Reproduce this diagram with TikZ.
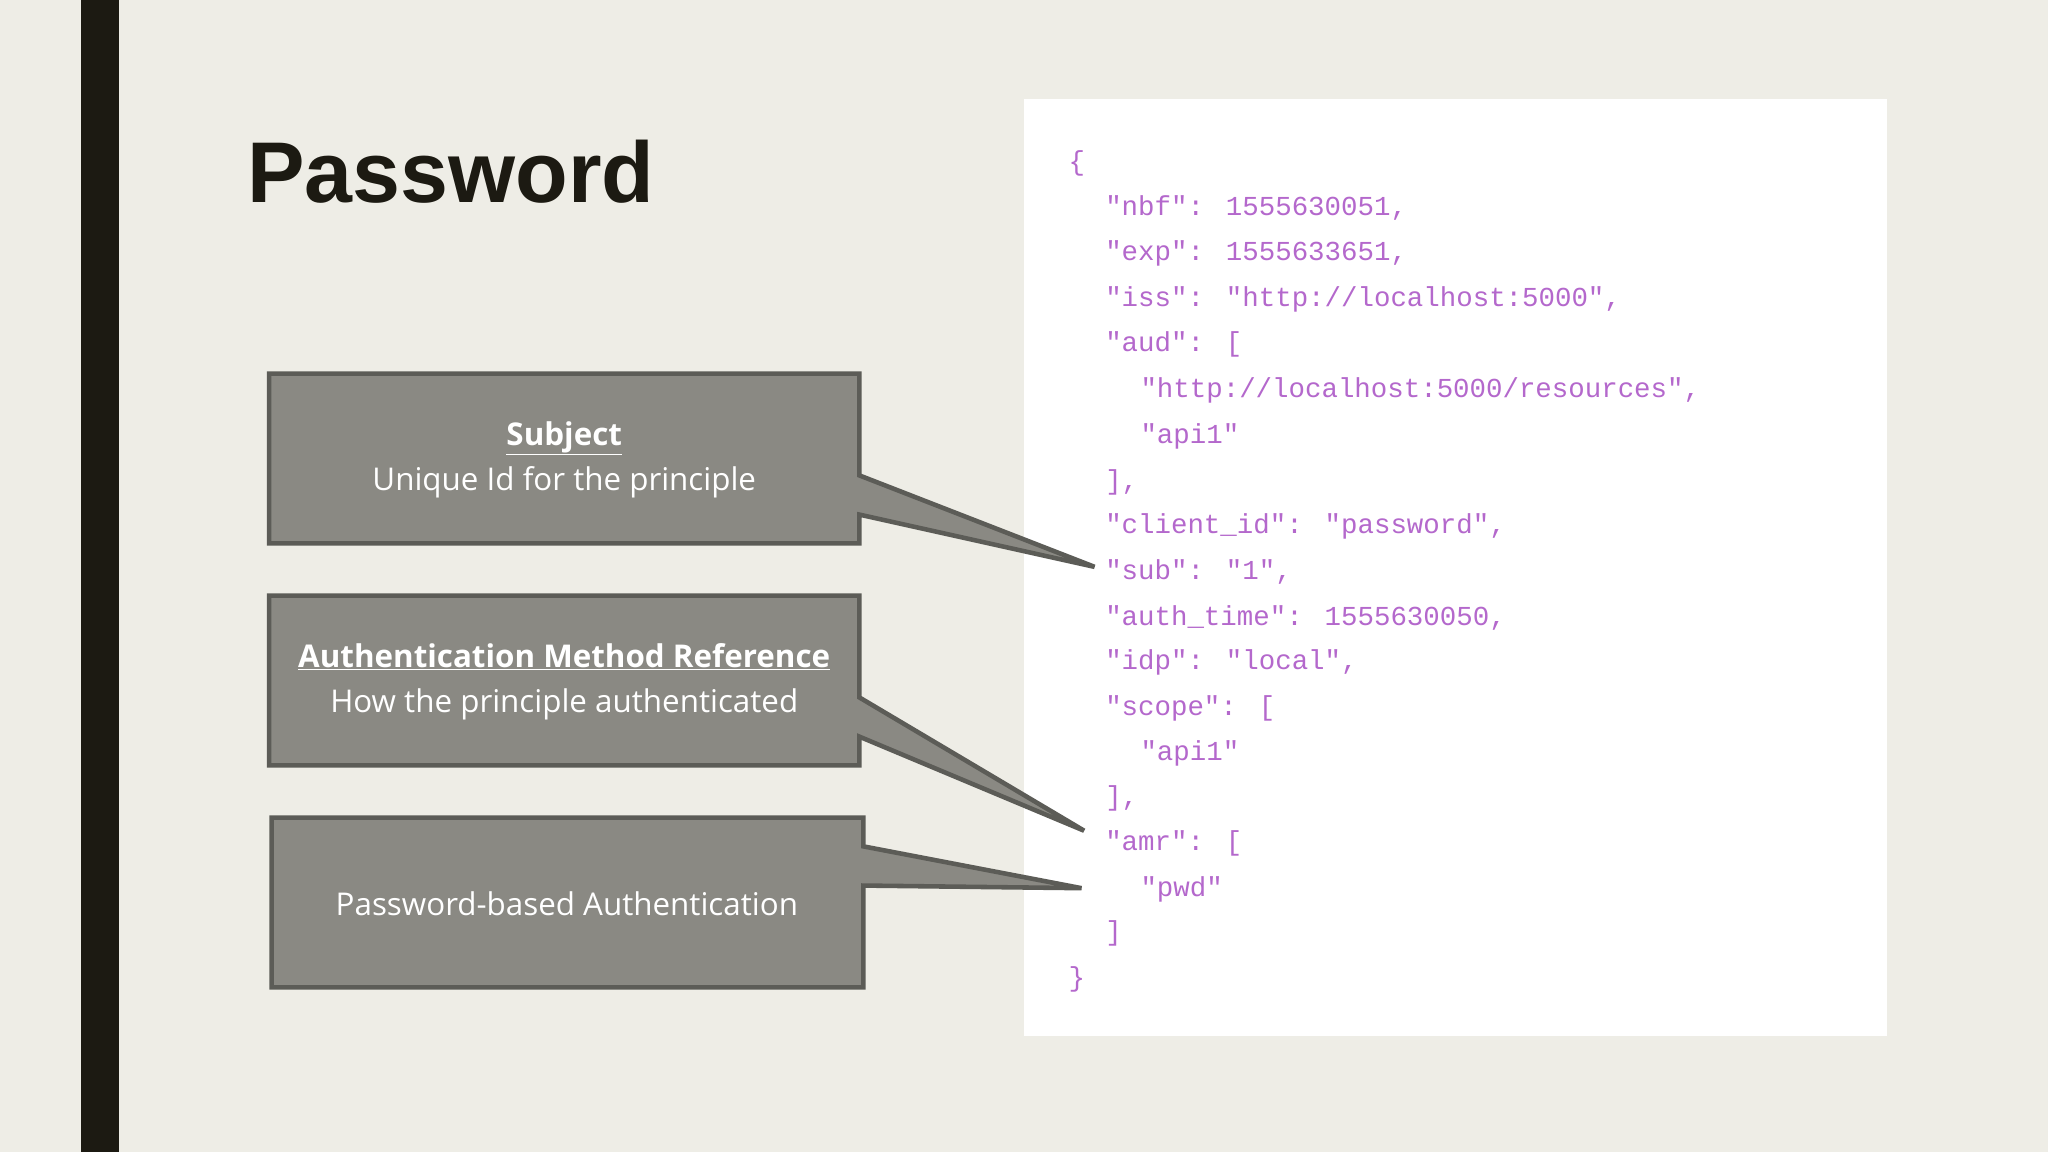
\documentclass[tikz,border=0pt]{standalone}
\usepackage{fontspec}
\setmainfont{Open Sans}
\newfontfamily\titlefont{Liberation Sans}
\newfontfamily\codefont{Liberation Mono}
\definecolor{bg}{HTML}{EEEDE6}
\definecolor{bar}{HTML}{1C1A12}
\definecolor{boxfill}{HTML}{8A8983}
\definecolor{boxline}{HTML}{5C5C57}
\definecolor{code}{HTML}{B468CC}
\tikzset{
  callout/.style={fill=boxfill,draw=boxline,line width=3.5pt,line join=miter},
  boxtext/.style={text=white,align=center,font=\fontsize{24}{35}\selectfont},
  codeline/.style={anchor=west,text=code,inner sep=0pt,font=\codefont\fontsize{21}{21}\selectfont},
}
\begin{document}
\begin{tikzpicture}[x=1pt,y=-1pt]
\useasboundingbox (0,0) rectangle (1568,882);
\fill[bg] (0,0) rectangle (1568,882);
\fill[bar] (62,0) rectangle (91,882);
\node[anchor=base west,inner sep=0pt,font=\titlefont\bfseries\fontsize{66}{66}\selectfont,text=bar] (title) at (189,155) {Password};
\fill[white] (784,76) rectangle (1445,793);
% code
\node[codeline] (c1) at (818,125) {\{};
\node[codeline] (c2) at (846,159) {"nbf": 1555630051,};
\node[codeline] (c3) at (846,194) {"exp": 1555633651,};
\node[codeline] (c4) at (846,229) {"iss": "http://localhost:5000",};
\node[codeline] (c5) at (846,264) {"aud": [};
\node[codeline] (c6) at (873,299) {"http://localhost:5000/resources",};
\node[codeline] (c7) at (873,334) {"api1"};
\node[codeline] (c8) at (846,369) {],};
\node[codeline] (c9) at (846,403) {"client\_id": "password",};
\node[codeline] (c10) at (846,438) {"sub": "1",};
\node[codeline] (c11) at (846,473) {"auth\_time": 1555630050,};
\node[codeline] (c12) at (846,507) {"idp": "local",};
\node[codeline] (c13) at (846,542) {"scope": [};
\node[codeline] (c14) at (873,577) {"api1"};
\node[codeline] (c15) at (846,611) {],};
\node[codeline] (c16) at (846,646) {"amr": [};
\node[codeline] (c17) at (873,681) {"pwd"};
\node[codeline] (c18) at (846,715) {]};
\node[codeline] (c19) at (818,750) {\}};
\coordinate (t1) at (838,434);
\coordinate (t2) at (830,636);
\coordinate (t3) at (828,680);
\draw[callout] (206,286) -- (658,286) -- (658,364) -- (t1) -- (658,394) -- (658,416) -- (206,416) -- cycle;
\draw[callout] (206,456) -- (658,456) -- (658,534) -- (t2) -- (658,564) -- (658,586) -- (206,586) -- cycle;
\draw[callout] (208,626) -- (661,626) -- (661,648) -- (t3) -- (661,678) -- (661,756) -- (208,756) -- cycle;
\node[boxtext] (b1) at (432,352) {\textbf{\underline{Subject}}\\Unique Id for the principle};
\node[boxtext] (b2) at (432,522) {\textbf{\underline{Authentication Method Reference}}\\How the principle authenticated};
\node[boxtext] (b3) at (434,692) {Password-based Authentication};
\end{tikzpicture}
\end{document}
